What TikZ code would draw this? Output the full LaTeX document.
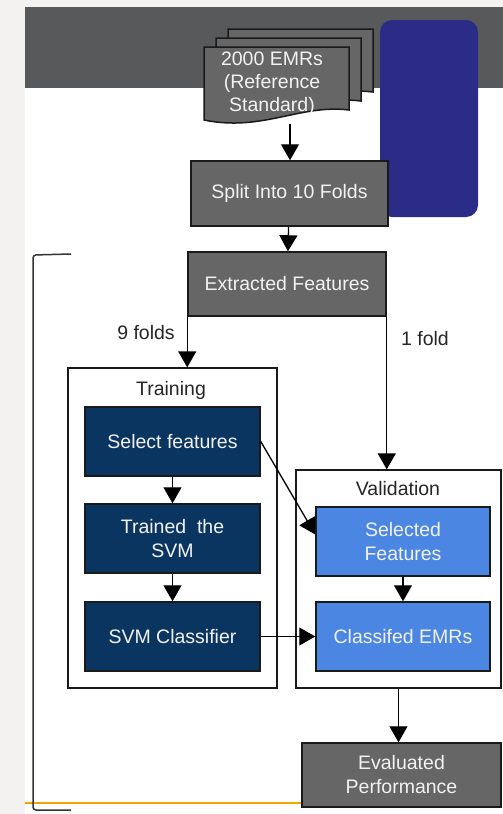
\documentclass[tikz,border=0pt]{standalone}
\usepackage{fontspec}
\setmainfont{Liberation Sans}
\usetikzlibrary{arrows.meta}
\definecolor{bgl}{HTML}{F3F2F0}
\definecolor{band}{HTML}{58595B}
\definecolor{boxgray}{HTML}{666666}
\definecolor{navy}{HTML}{0B3561}
\definecolor{lblue}{HTML}{4A86E2}
\definecolor{bluerect}{HTML}{2B2C87}
\definecolor{orng}{HTML}{F0A500}
\definecolor{edge}{HTML}{1A1A1A}
\definecolor{txtw}{HTML}{F2F2F2}
\begin{document}
\begin{tikzpicture}[x=1pt,y=-1pt,
  every node/.style={font=\fontsize{19.5}{24}\selectfont, inner sep=0pt},
  box/.style={draw=edge, line width=1.5pt, text=txtw, align=center},
  graybox/.style={box, fill=boxgray},
  navybox/.style={box, fill=navy, minimum width=175pt, minimum height=69pt},
  bluebox/.style={box, fill=lblue, minimum width=174pt, minimum height=69pt},
  frame/.style={draw=edge, line width=1.3pt, fill=white},
  lbl/.style={text=black!85},
  conn/.style={draw=black, line width=1.3pt, -{Triangle[width=18pt,length=16pt]}}
]
\useasboundingbox (0,0) rectangle (503,814);
\fill[bgl] (0,0) rectangle (503,814);
\fill[white] (25,7) rectangle (503,814);
\fill[band] (25,7) rectangle (503,88);
\fill[bluerect, rounded corners=12pt] (380,20) rectangle (478,217);

% stacked documents
\foreach \dx/\dy in {24/18, 12/9, 0/0}{
  \draw[draw=edge, line width=1.5pt, fill=boxgray, shift={(\dx,-\dy)}]
    (204,47) -- (349,47) -- (349,110) .. controls (300,104) and (262,132) .. (204,120) -- cycle;
}
\node[text=txtw, align=center, font=\fontsize{19.5}{23}\selectfont] (emr) at (272,84) {2000 EMRs\\(Reference\\Standard)};
\coordinate (docb) at (290,124);

% orange line
\draw[orng, line width=1.5pt] (25,803) -- (302,803);
% left bracket
\draw[black!80, line width=1.5pt, rounded corners=3pt] (71,254) -- (33,255) -- (33,810) -- (71,810);

\node[graybox, minimum width=197pt, minimum height=65pt] (split) at (289.5,193.5) {Split Into 10 Folds};
\node[graybox, minimum width=198pt, minimum height=64pt] (ext) at (287,284) {Extracted Features};

\node[frame, minimum width=209pt, minimum height=320pt] (train) at (172.5,528) {};
\node[frame, minimum width=205pt, minimum height=218pt] (val) at (398.5,579) {};
\node[lbl] (trainlbl) at (171,390) {Training};
\node[lbl] (vallbl) at (398,489) {Validation};

\node[navybox] (sel) at (172.5,441.5) {Select features};
\node[navybox] (trained) at (172.5,538.5) {Trained\ \ the\\SVM};
\node[navybox] (svm) at (172.5,636.5) {SVM Classifier};
\node[bluebox] (selected) at (403,541.5) {Selected\\Features};
\node[bluebox] (classified) at (403,636.5) {Classifed EMRs};
\node[graybox, minimum width=199pt, minimum height=64pt] (eval) at (401.5,775) {Evaluated\\Performance};

\node[lbl] (nine) at (146,333) {9 folds};
\node[lbl] (one) at (425,339) {1 fold};

\draw[conn] (docb) -- (split.north -| docb);
\draw[conn] (split) -- (ext);
\draw[conn] (ext.south west) -- (ext.south west |- train.north);
\draw[conn] (ext.south east) -- (ext.south east |- val.north);
\draw[conn] (sel) -- (trained);
\draw[conn] (trained) -- (svm);
\draw[conn] (svm) -- (classified);
\draw[conn] (sel.east) -- ([yshift=7pt]selected.west);
\draw[conn] (selected) -- (classified);
\draw[conn] (val.south) -- (val.south |- eval.north);
\end{tikzpicture}
\end{document}
